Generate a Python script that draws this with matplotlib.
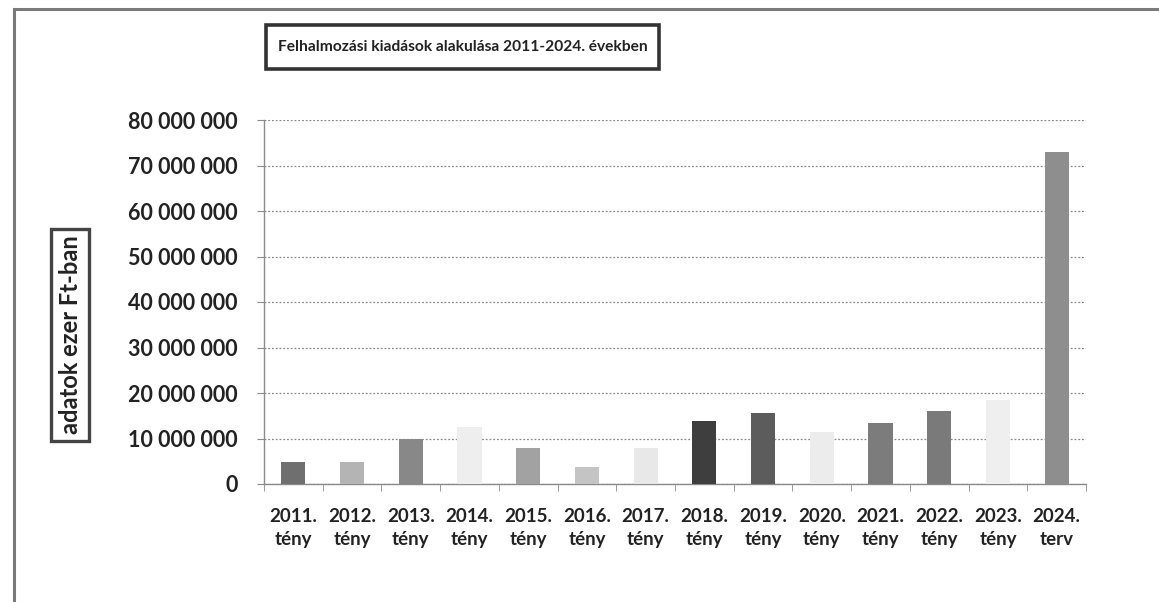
import matplotlib
matplotlib.use("Agg")
import matplotlib.pyplot as plt
from matplotlib.ticker import FuncFormatter, FixedLocator
from matplotlib.patches import Rectangle

years = ["2011.", "2012.", "2013.", "2014.", "2015.", "2016.", "2017.",
         "2018.", "2019.", "2020.", "2021.", "2022.", "2023.", "2024."]
kinds = ["tény"] * 13 + ["terv"]
values = [4.8e6, 4.8e6, 9.9e6, 12.5e6, 7.9e6, 3.8e6, 7.9e6,
          13.9e6, 15.5e6, 11.4e6, 13.4e6, 16.0e6, 18.5e6, 73.0e6]
bar_colors = ["#6f6f6f", "#b4b4b4", "#888888", "#eeeeee", "#a2a2a2", "#c4c4c4", "#e8e8e8",
              "#3e3e3e", "#5c5c5c", "#ececec", "#7c7c7c", "#7a7a7a", "#efefef", "#8e8e8e"]

plt.rcParams['font.family'] = ['Lato', 'DejaVu Sans']

W, H = 1159, 602
fig = plt.figure(figsize=(W / 100, H / 100), dpi=100)
fig.patch.set_facecolor("white")

# outer frame
fig.add_artist(Rectangle((14 / W, -0.02), 1.1, (602 - 9) / H + 0.02, transform=fig.transFigure,
                         fill=False, edgecolor="#7a7a7a", linewidth=2.2))

ax = fig.add_axes([264 / W, 118 / H, (1086 - 264) / W, (484 - 120) / H])
x = list(range(len(years)))
ax.bar(x, values, width=0.41, color=bar_colors, zorder=3)
ax.set_xlim(-0.5, len(years) - 0.5)
ax.set_ylim(0, 80e6)
ax.yaxis.set_major_locator(FixedLocator([i * 10e6 for i in range(9)]))
ax.yaxis.set_major_formatter(FuncFormatter(lambda v, p: f"{int(round(v)):,}".replace(",", " ")))
ax.grid(axis="y", color="#8a8a8a", linestyle=(0, (1.5, 1.5)), linewidth=0.9, zorder=0)
for s in ["top", "right"]:
    ax.spines[s].set_visible(False)
for s in ["left", "bottom"]:
    ax.spines[s].set_color("#8a8a8a")
    ax.spines[s].set_linewidth(1.0)

ax.set_xticks(x)
ax.set_xticklabels([f"{y}\n{k}" for y, k in zip(years, kinds)], fontsize=13.5, fontweight="bold",
                   color="#222222", linespacing=1.45)
ax.tick_params(axis="x", which="major", length=0, pad=17)
ax.set_xticks([i - 0.5 for i in range(len(years) + 1)], minor=True)
ax.tick_params(axis="x", which="minor", length=5, color="#8a8a8a", direction="out")
ax.tick_params(axis="y", length=5, color="#8a8a8a", labelsize=15.5, pad=14, labelcolor="#222222")
for lab in ax.get_yticklabels():
    lab.set_fontweight("bold")

# title box
bx0, bx1, by0, by1 = 266, 659, 25, 69
fig.add_artist(Rectangle((bx0 / W, 1 - by1 / H), (bx1 - bx0) / W, (by1 - by0) / H,
                         transform=fig.transFigure, facecolor="white", edgecolor="#333333",
                         linewidth=2.6))
fig.text((bx0 + bx1) / 2 / W, 1 - 47 / H, "Felhalmozási kiadások alakulása 2011-2024. években",
         ha="center", va="center", fontsize=11.2, fontweight="bold", color="#222222")

fig.text(70 / W, 1 - 335 / H, "adatok ezer Ft-ban", rotation=90,
         ha="center", va="center", fontsize=17, fontweight="bold", color="#222222",
         bbox=dict(boxstyle="square,pad=0.3", facecolor="white", edgecolor="#444444", linewidth=2.4))

fig.savefig("out.png", dpi=100, facecolor="white")
